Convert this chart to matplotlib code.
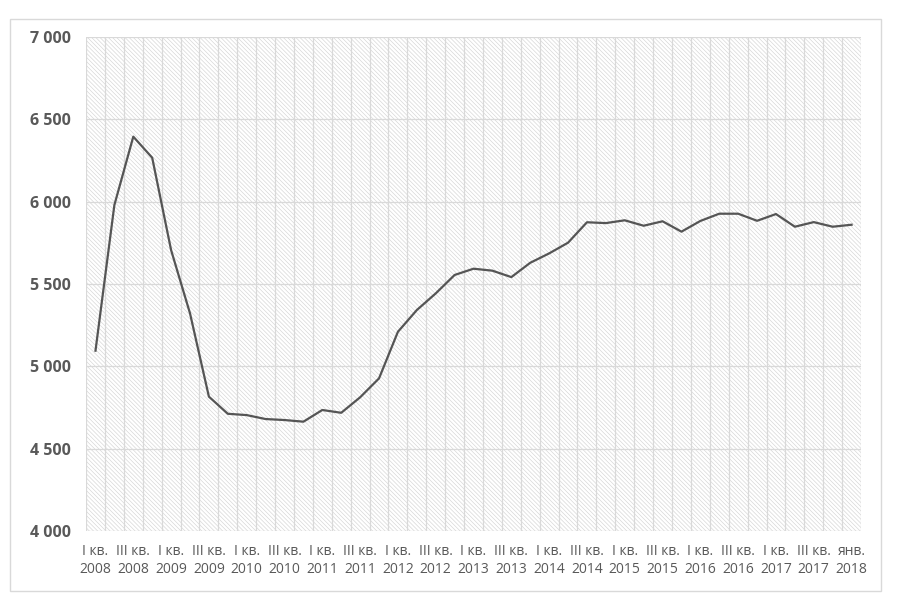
import numpy as np
import matplotlib.pyplot as plt
from matplotlib.patches import Rectangle
from matplotlib.ticker import FuncFormatter, FixedLocator

# quarterly values, I кв. 2008 ... IV кв. 2017, then янв. 2018
values = [5095, 5980, 6395, 6267, 5706, 5322, 4816, 4712, 4704, 4680,
          4674, 4664, 4735, 4718, 4812, 4927, 5210, 5342, 5443, 5555,
          5593, 5581, 5542, 5629, 5686, 5751, 5875, 5870, 5887, 5854,
          5881, 5818, 5883, 5927, 5927, 5884, 5925, 5848, 5876, 5848,
          5860]
years = list(range(2008, 2018))
tick_labels = []
for y in years:
    tick_labels += [f'I кв.\n{y}', f'III кв.\n{y}']
tick_labels.append('янв.\n2018')

plt.rcParams['font.family'] = ['Open Sans', 'DejaVu Sans']
plt.rcParams['hatch.color'] = '#d4d4d4'
plt.rcParams['hatch.linewidth'] = 0.45

fig = plt.figure(figsize=(9, 6.11), dpi=100)
fig.patches.append(Rectangle((0.0111, 0.0327), 0.9678, 0.936, transform=fig.transFigure,
                             facecolor='none', edgecolor='#d9d9d9', lw=1))
ax = fig.add_axes([0.0956, 0.1309, 0.8611, 0.8085])

x = np.arange(len(values))
ax.add_patch(Rectangle((0, 0), 1, 1, transform=ax.transAxes, facecolor='white',
                       edgecolor='#d4d4d4', lw=0, hatch='\\' * 8, zorder=0))
ax.plot(x, values, color='#555555', lw=1.6, zorder=3)

ax.set_xlim(-0.5, len(values) - 0.5)
ax.set_ylim(4000, 7000)
ax.set_yticks(np.arange(4000, 7001, 500))
ax.yaxis.set_major_formatter(FuncFormatter(lambda v, p: f'{v:,.0f}'.replace(',', ' ')))
ax.set_xticks(x[::2])
ax.set_xticklabels(tick_labels, fontsize=10, color='#595959', linespacing=1.3)
ax.xaxis.set_minor_locator(FixedLocator(np.arange(-0.5, len(values), 1)))
for lab in ax.get_yticklabels():
    lab.set_fontweight('bold')
    lab.set_fontsize(11.5)
    lab.set_color('#595959')

ax.tick_params(axis='both', which='both', length=0)
ax.tick_params(axis='x', pad=9)
ax.tick_params(axis='y', pad=11)
ax.grid(axis='y', which='major', color='#d9d9d9', lw=0.9, zorder=1)
ax.grid(axis='x', which='minor', color='#d9d9d9', lw=0.9, zorder=1)
ax.set_axisbelow(True)
for s in ax.spines.values():
    s.set_visible(False)

fig.savefig('out.png', dpi=100)
